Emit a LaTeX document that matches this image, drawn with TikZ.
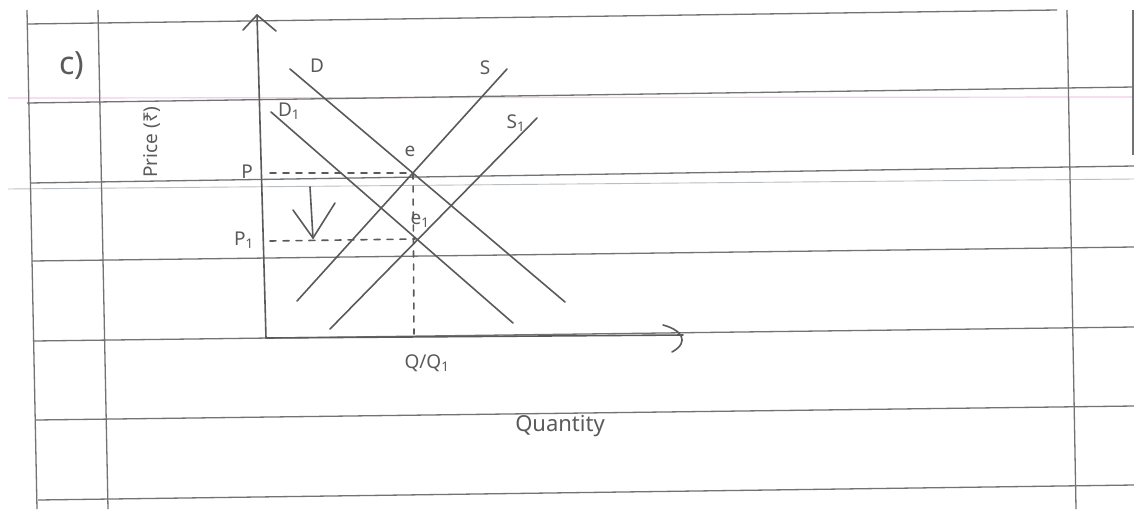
\documentclass[tikz,border=0pt]{standalone}
\usepackage{fontspec}
\setmainfont{Noto Sans}
\definecolor{rulegray}{RGB}{115,115,115}
\definecolor{fainter}{RGB}{185,190,195}
\definecolor{pinkline}{RGB}{242,205,235}
\definecolor{pencilgray}{RGB}{90,90,90}
\begin{document}
\begin{tikzpicture}[x=1pt,y=-1pt,
  rule/.style={draw=rulegray,line width=1.3pt},
  faintrule/.style={draw=fainter,line width=0.9pt},
  pinkrule/.style={draw=pinkline,line width=1.2pt},
  pencil/.style={draw=pencilgray,line width=1.6pt,line cap=round,line join=round},
  dashline/.style={pencil,dash pattern=on 6pt off 7pt},
  lbl/.style={text=pencilgray,font=\fontsize{19}{21}\selectfont,inner sep=0pt}]
\useasboundingbox[fill=white] (0,0) rectangle (1134,509);

% ruled paper
\draw[pinkrule] (8,98) -- (1134,97);
\draw[faintrule] (8,189) -- (1134,179);
\draw[rule] (27,24) -- (1057,10);
\draw[rule] (27,103) -- (1134,87);
\draw[rule] (30,183) -- (1134,166);
\draw[rule] (32,261) -- (1134,247);
\draw[rule] (34,341) -- (1134,327);
\draw[rule] (36,420) -- (1134,406);
\draw[rule] (38,500) -- (1134,485);
\draw[rule] (27,10) -- (37,509);
\draw[rule] (98,10) -- (108,509);
\draw[rule] (1067,10) -- (1076,509);
\draw[rule] (1133,10) -- (1133,155);

% axes
\coordinate (origin) at (266,338);
\coordinate (ytop) at (257,15);
\coordinate (xend) at (683,335);
\draw[pencil] (origin) -- (ytop);
\draw[pencil] (243,30) -- (ytop) -- (276,31);
\draw[pencil] (origin) -- (xend);
\draw[pencil] (663,325) .. controls (682,330) and (690,342) .. (672,352);

% curves
\coordinate (Da) at (290,69);   \coordinate (Db) at (565,302);
\coordinate (D1a) at (271,112); \coordinate (D1b) at (513,323);
\coordinate (Sa) at (507,69);   \coordinate (Sb) at (297,301);
\coordinate (S1a) at (537,118); \coordinate (S1b) at (330,329);
\draw[pencil] (Da) -- (Db);
\draw[pencil] (D1a) -- (D1b);
\draw[pencil] (Sa) -- (Sb);
\draw[pencil] (S1a) -- (S1b);

% equilibrium points and guides
\coordinate (e) at (413,173);
\coordinate (e1) at (415,239);
\coordinate (pstart) at (270,173);
\coordinate (p1start) at (270,241);
\coordinate (qfoot) at (414,334);
\draw[dashline] (pstart) -- (e);
\draw[dashline] (p1start) -- (e1);
\draw[dashline] (e) -- (qfoot);

% downward arrow
\coordinate (arrtop) at (310,187);
\coordinate (arrtip) at (313,238);
\draw[pencil] (arrtop) -- (arrtip);
\draw[pencil] (293,210) -- (arrtip) -- (335,203);

% labels
\node[lbl] (Dlbl) at (317,66) {D};
\node[lbl] (D1lbl) at (289,111) {D\textsubscript{1}};
\node[lbl] (Slbl) at (485,68) {S};
\node[lbl] (S1lbl) at (516,123) {S\textsubscript{1}};
\node[lbl] (elbl) at (410,151) {e};
\node[lbl] (e1lbl) at (420,221) {e\textsubscript{1}};
\node[lbl] (Plbl) at (247,172) {P};
\node[lbl] (P1lbl) at (244,240) {P\textsubscript{1}};
\node[lbl] (Qlbl) at (427,363) {Q/Q\textsubscript{1}};
\node[lbl,font=\fontsize{22}{24}\selectfont] (qty) at (560,426) {Quantity};
\node[lbl,font=\fontsize{32}{34}\selectfont] (part) at (72,66) {c)};
\node[lbl,rotate=90] (price) at (152,142) {Price (₹)};
\end{tikzpicture}
\end{document}
